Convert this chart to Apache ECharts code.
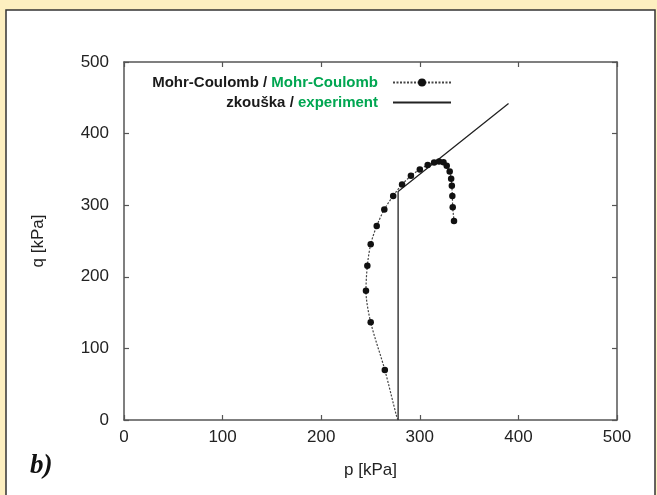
<!DOCTYPE html>
<html>
<head>
<meta charset="utf-8">
<script src="https://cdn.jsdelivr.net/npm/echarts@6/dist/echarts.min.js"></script>
<style>
  html, body { margin: 0; padding: 0; background: #fff; }
  #chart { width: 657px; height: 495px; }
</style>
</head>
<body>
<div id="chart"></div>
<script>
var chart = echarts.init(document.getElementById('chart'));

// Mohr-Coulomb model path (p, q in kPa)
var mcP = [278, 276.5, 264.5, 250.2, 245.4, 246.8, 250.2, 256.3, 264, 273, 282, 291, 300, 308, 314.5, 319.5, 324, 327.3, 330.3, 331.8, 332.5, 333, 333.4, 334.7];
var mcQ = [0, 5, 70, 136.5, 180.6, 215.5, 245.4, 271, 294, 313, 329, 341, 350, 356, 359.5, 361, 360, 355, 347, 337, 327, 313, 297, 278];

// experiment path
var expP = [278, 278, 390];
var expQ = [0, 319, 442];

var axisTicks = [0, 100, 200, 300, 400, 500];

var mcData = mcP.map(function (p, i) {
	var item = { value: [p, mcQ[i]] };
	if (i < 2) item.symbol = 'none';   // no marker at the start of the path
	return item;
});
var expData = expP.map(function (p, i) { return [p, expQ[i]]; });

var frameColor = '#555';
var sans = '"Liberation Sans", Arial, sans-serif';
var labelFont = { color: '#222', fontSize: 17, fontFamily: sans };

function axisBase(pos, show) {
	return {
		type: 'value',
		position: pos,
		min: axisTicks[0],
		max: axisTicks[axisTicks.length - 1],
		interval: 100,
		splitLine: { show: false },
		axisLine: { show: true, onZero: false, lineStyle: { color: frameColor, width: 1.5 } },
		axisTick: { show: true, inside: true, length: 5, lineStyle: { color: frameColor, width: 1.2 } },
		axisLabel: show ? Object.assign({ margin: 9 }, labelFont) : { show: false }
	};
}

var xMain = axisBase('bottom', true);
xMain.name = 'p [kPa]';
xMain.nameLocation = 'middle';
xMain.nameGap = 42;
xMain.nameTextStyle = labelFont;
var yMain = axisBase('left', true);
yMain.axisLabel.margin = 15;
yMain.name = 'q [kPa]';
yMain.nameLocation = 'middle';
yMain.nameGap = 77;
yMain.nameTextStyle = labelFont;

var legendText = {
	fontSize: 15,
	fontWeight: 'bold',
	fontFamily: sans,
	rich: {
		k: { color: '#1a1a1a', fontSize: 15, fontWeight: 'bold', fontFamily: sans },
		g: { color: '#00a651', fontSize: 15, fontWeight: 'bold', fontFamily: sans },
		s: { width: 10 }
	}
};

option = {
	backgroundColor: '#fff',
	animation: false,
	grid: {
		left: 124,
		right: 40,
		top: 62,
		bottom: 75,
		outerBoundsMode: 'none'
	},
	legend: [
		{
			data: ['Mohr-Coulomb'],
			right: 205,
			top: 75,
			padding: 0,
			align: 'right',
			itemWidth: 58,
			itemHeight: 10,
			formatter: '{k|Mohr-Coulomb / }{g|Mohr-Coulomb}{s|}',
			textStyle: legendText
		},
		{
			data: ['zkouška'],
			right: 205,
			top: 95,
			padding: 0,
			align: 'right',
			itemWidth: 58,
			itemHeight: 10,
			itemStyle: { opacity: 0 },
			formatter: '{k|zkouška / }{g|experiment}{s|}',
			textStyle: legendText
		}
	],
	xAxis: [xMain, axisBase('top', false)],
	yAxis: [yMain, axisBase('right', false)],
	series: [
		{
			name: 'Mohr-Coulomb',
			type: 'line',
			smooth: 0.3,
			symbol: 'circle',
			symbolSize: 6.5,
			itemStyle: { color: '#111' },
			lineStyle: { color: '#444', width: 1.2, type: [2, 1.5] },
			data: mcData,
			z: 3
		},
		{
			name: 'zkouška',
			type: 'line',
			symbol: 'none',
			itemStyle: { color: '#222' },
			lineStyle: { color: '#222', width: 1.3 },
			data: expData,
			z: 2
		}
	],
	graphic: [
		// yellow page frame round the white panel
		{ type: 'rect', shape: { x: 0, y: 0, width: 657, height: 10 }, style: { fill: '#fdefc0' } },
		{ type: 'rect', shape: { x: 0, y: 0, width: 6, height: 495 }, style: { fill: '#fdefc0' } },
		{ type: 'rect', shape: { x: 655, y: 0, width: 2, height: 495 }, style: { fill: '#fdefc0' } },
		{ type: 'polyline', shape: { points: [[6, 495], [6, 10], [655, 10], [655, 495]] }, style: { stroke: '#333', lineWidth: 1.5, fill: null } },
		{
			type: 'text',
			left: 30,
			top: 453,
			style: { text: 'b)', fill: '#111', font: 'italic bold 27px "Liberation Serif", "Times New Roman", serif' }
		}
	]
};

chart.setOption(option);
</script>
</body>
</html>
